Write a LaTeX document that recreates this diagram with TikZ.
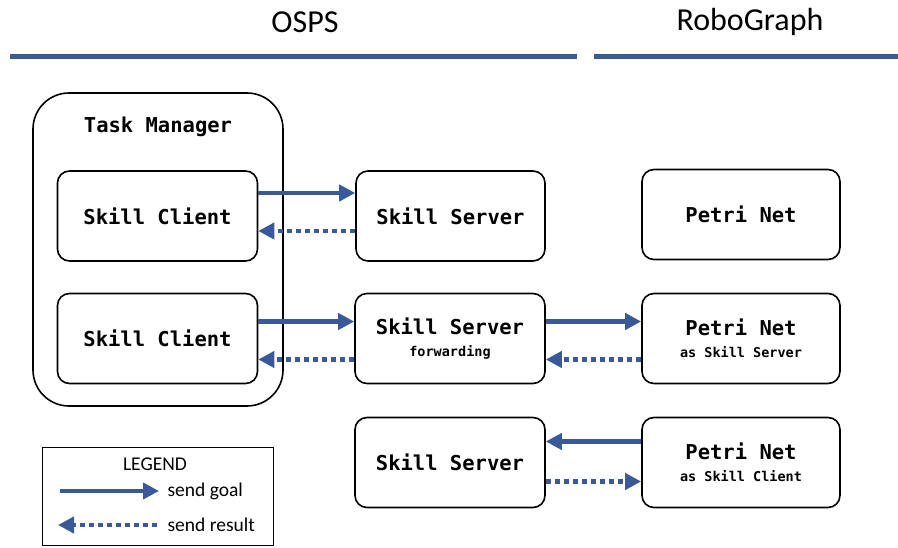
\documentclass[tikz,border=0pt]{standalone}
\usepackage{fontspec}
\setmainfont{Carlito}
\newfontfamily\boxfont{DejaVu Sans Mono}
\usetikzlibrary{arrows.meta}

\definecolor{ospsblue}{RGB}{58,89,152}

\newcommand{\subline}[1]{{\fontsize{13.5}{15}\selectfont #1}}

\tikzset{
  block/.style={draw=black, line width=1.6pt, rounded corners=12pt,
    minimum width=200pt, minimum height=90pt, align=center,
    font=\boxfont\bfseries\fontsize{20.5}{22}\selectfont},
  goal/.style={draw=ospsblue, line width=4.5pt,
    -{Triangle[length=16pt, width=16pt]}},
  result/.style={draw=ospsblue, line width=4.5pt, dash pattern=on 5pt off 4pt,
    -{Triangle[length=16pt, width=16pt]}},
  heading/.style={font=\fontsize{32}{36}\selectfont},
  legendtext/.style={font=\fontsize{19.5}{22}\selectfont, anchor=west}
}

\begin{document}
\begin{tikzpicture}[x=1pt, y=-1pt]
\useasboundingbox (0,0) rectangle (898,548);

% headings
\node[heading] (osps) at (305,22) {OSPS};
\node[heading] (robo) at (750,22) {RoboGraph};
\draw[ospsblue, line width=5pt] (10,57) -- (577,57);
\draw[ospsblue, line width=5pt] (594,57) -- (898,57);

% task manager
\draw[line width=1.6pt, rounded corners=36pt] (33,93) rectangle (283,406);
\node[block, draw=none, minimum height=20pt] (tm) at (158,127) {Task Manager};

\node[block] (c1) at (157.5,216) {Skill Client};
\node[block] (c2) at (157.5,338.5) {Skill Client};

% servers
\node[block, minimum width=189pt] (s1) at (450.5,216) {Skill Server};
\node[block, minimum width=190pt] (s2) at (450,338.5) {Skill Server\\[0pt]\subline{forwarding}};
\node[block, minimum width=190pt] (s3) at (450,462.5) {Skill Server};

% petri nets
\node[block, minimum width=198pt] (p1) at (741,214.5) {Petri Net};
\node[block, minimum width=198pt] (p2) at (741,338.5) {Petri Net\\[0pt]\subline{as Skill Server}};
\node[block, minimum width=198pt] (p3) at (741,462.5) {Petri Net\\[0pt]\subline{as Skill Client}};

% goals and results
\draw[goal] ([yshift=23pt]c1.east) -- ([yshift=23pt]s1.west);
\draw[result] ([yshift=-15pt]s1.west) -- ([yshift=-15pt]c1.east);
\draw[goal] ([yshift=17pt]c2.east) -- ([yshift=17pt]s2.west);
\draw[result] ([yshift=-21pt]s2.west) -- ([yshift=-21pt]c2.east);
\draw[goal] ([yshift=17pt]s2.east) -- ([yshift=17pt]p2.west);
\draw[result] ([yshift=-21pt]p2.west) -- ([yshift=-21pt]s2.east);
\draw[goal] ([yshift=21pt]p3.west) -- ([yshift=21pt]s3.east);
\draw[result] ([yshift=-19pt]s3.east) -- ([yshift=-19pt]p3.west);

% legend
\draw[line width=0.8pt] (42,447) rectangle (273,545);
\node[font=\fontsize{19.5}{22}\selectfont] (leg) at (155,464) {LEGEND};
\coordinate (g0) at (60,491);
\coordinate (g1) at (159,491);
\coordinate (r0) at (157,525);
\coordinate (r1) at (58,525);
\draw[goal] (g0) -- (g1);
\draw[result] (r0) -- (r1);
\node[legendtext] (lg) at (164,491) {send goal};
\node[legendtext] (lr) at (164,525) {send result};
\end{tikzpicture}
\end{document}
